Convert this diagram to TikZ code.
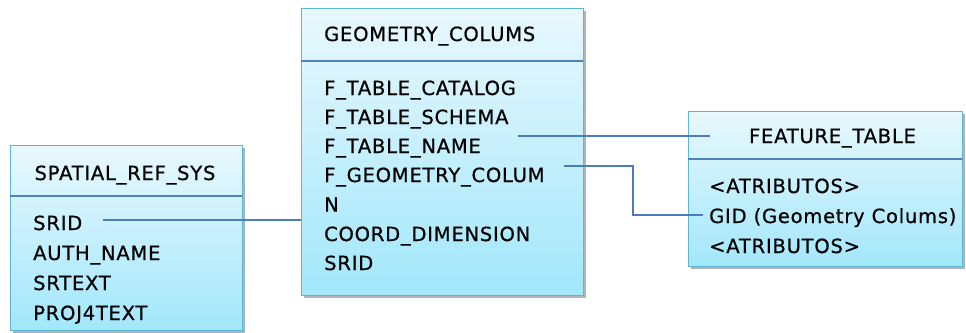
\documentclass[tikz,border=0pt]{standalone}
\usepackage{fontspec}
\setmainfont{DejaVu Sans}[FakeBold=0.7,LetterSpace=4]
\usetikzlibrary{calc,shadows}
\definecolor{boxedge}{HTML}{5DB7D2}
\definecolor{sepline}{HTML}{4F81BD}
\definecolor{linkline}{HTML}{4A7EBB}
\definecolor{filltop}{HTML}{E8F8FD}
\definecolor{fillbot}{HTML}{A2E7FB}
\tikzset{
  tbl/.style={draw=boxedge, line width=1.2pt, top color=filltop, bottom color=fillbot,
    anchor=north west, inner sep=0pt,
    drop shadow={shadow xshift=2.5pt, shadow yshift=-2.5pt, fill=black!50, opacity=0.6}},
  sep/.style={draw=sepline, line width=1.3pt},
  txt/.style={anchor=base west, inner sep=0pt, font=\fontsize{19.5}{21}\selectfont},
  head/.style={anchor=base, inner sep=0pt, font=\fontsize{19.5}{21}\selectfont},
  link/.style={draw=linkline, line width=1.2pt}
}
\begin{document}
\begin{tikzpicture}[x=1pt,y=1pt]
\useasboundingbox (0,0) rectangle (966,-332);

% SPATIAL_REF_SYS
\node[tbl, minimum width=232pt, minimum height=185pt] (srs) at (10,-145) {};
\draw[sep] (10,-196) -- (242,-196);
\node[head] (srsh) at (125,-180) {SPATIAL\_REF\_SYS};
\node[txt] (s1) at (33,-230) {SRID};
\node[txt] (s2) at (33,-260) {AUTH\_NAME};
\node[txt] (s3) at (33,-290) {SRTEXT};
\node[txt] (s4) at (33,-320) {PROJ4TEXT};

% GEOMETRY_COLUMS
\node[tbl, minimum width=282pt, minimum height=287pt] (geo) at (301,-8) {};
\draw[sep] (301,-61) -- (583,-61);
\node[txt] (gh) at (324,-41) {GEOMETRY\_COLUMS};
\node[txt] (g1) at (324,-95) {F\_TABLE\_CATALOG};
\node[txt] (g2) at (324,-124) {F\_TABLE\_SCHEMA};
\node[txt] (g3) at (324,-153) {F\_TABLE\_NAME};
\node[txt] (g4) at (324,-182) {F\_GEOMETRY\_COLUM};
\node[txt] (g5) at (324,-211.5) {N};
\node[txt] (g6) at (324,-241) {COORD\_DIMENSION};
\node[txt] (g7) at (324,-270) {SRID};

% FEATURE_TABLE
\node[tbl, minimum width=274pt, minimum height=155pt] (ft) at (688,-111) {};
\draw[sep] (688,-159) -- (962,-159);
\node[head] (fth) at (832.5,-143) {FEATURE\_TABLE};
\node[txt] (f1) at (709,-193) {<ATRIBUTOS>};
\node[txt] (f2) at (709,-223) {GID (Geometry Colums)};
\node[txt] (f3) at (709,-253) {<ATRIBUTOS>};

% connectors
\coordinate (c1) at (103,-220);
\coordinate (c2) at (518,-136);
\coordinate (c2e) at (710,-136);
\coordinate (c3) at (564,-166);
\coordinate (c3k) at (633,-166);
\coordinate (c3e) at (703,-215);
\draw[link] (c1) -- (geo.west |- c1);
\draw[link] (c2) -- (c2e);
\draw[link] (c3) -- (c3k) |- (c3e);
\end{tikzpicture}
\end{document}
